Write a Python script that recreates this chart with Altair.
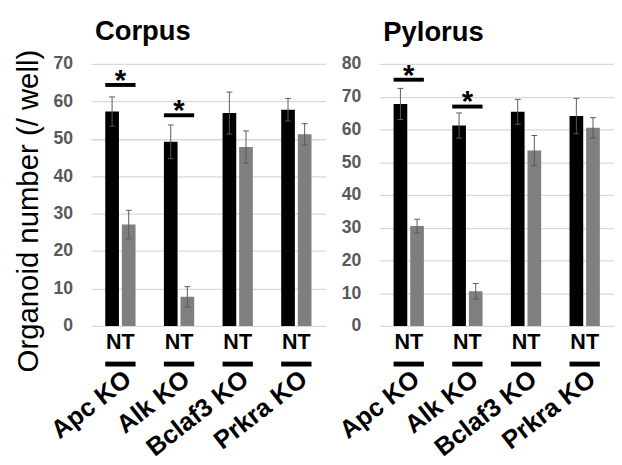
import altair as alt
import pandas as pd

FONT = "Liberation Sans"

categories = ["Apc KO", "Alk KO", "Bclaf3 KO", "Prkra KO"]
groups = ["NT", "KO"]

corpus_nt = [57.3, 49.2, 56.9, 57.8]
corpus_nt_err = [3.9, 4.5, 5.6, 3.0]
corpus_ko = [27.1, 7.8, 47.8, 51.2]
corpus_ko_err = [3.8, 2.7, 4.3, 2.85]

pylorus_nt = [67.8, 61.2, 65.4, 64.1]
pylorus_nt_err = [4.75, 3.85, 3.8, 5.4]
pylorus_ko = [30.5, 10.6, 53.6, 60.5]
pylorus_ko_err = [2.1, 2.35, 4.55, 3.1]

sig_categories = ["Apc KO", "Alk KO"]
corpus_sig = [64.4, 56.3]
pylorus_sig = [75.2, 67.0]

corpus_ticks = [0, 10, 20, 30, 40, 50, 60, 70]
pylorus_ticks = [0, 10, 20, 30, 40, 50, 60, 70, 80]

H = 268


def panel(title, nt, nt_err, ko, ko_err, sig, ticks, ytitle, title_offset, width):
    rows = []
    for c, v, e in zip(categories, nt, nt_err):
        rows.append(dict(cat=c, grp="NT", val=v, lo=v - e, hi=v + e))
    for c, v, e in zip(categories, ko, ko_err):
        rows.append(dict(cat=c, grp="KO", val=v, lo=v - e, hi=v + e))
    df = pd.DataFrame(rows)
    sig_df = pd.DataFrame(dict(cat=sig_categories, val=sig))
    cat_df = pd.DataFrame(dict(cat=categories, lab=["NT"] * len(categories)))

    xaxis = alt.Axis(
        title=None, labelAngle=-38, labelAlign="right", labelBaseline="middle",
        labelFontSize=26, labelFontWeight="bold", labelColor="black",
        labelFont=FONT, labelPadding=51, labelOffset=8, domain=False, ticks=False,
        labelOverlap=False,
    )
    xscale = alt.Scale(domain=categories, range=[0, 240], paddingInner=0, paddingOuter=0)
    x = alt.X("cat:N", sort=categories, scale=xscale, axis=xaxis)
    xo = alt.XOffset("grp:N", sort=groups,
                     scale=alt.Scale(domain=groups, paddingInner=0.1765, paddingOuter=0.853))
    yaxis_kw = dict(
        values=ticks, grid=True, gridColor="#d9d9d9", gridWidth=1.3, domain=False,
        ticks=False, labelFontSize=18, labelFontWeight="bold", labelColor="#595959",
        labelFont=FONT, labelPadding=19,
    )
    if ytitle:
        yaxis = alt.Axis(title=ytitle, titleFontSize=30, titleFontWeight="normal",
                         titleColor="black", titleFont=FONT, titlePadding=10,
                         titleY=150, **yaxis_kw)
    else:
        yaxis = alt.Axis(title=None, **yaxis_kw)
    yscale = alt.Scale(domain=[0, ticks[-1]], nice=False)

    bars = alt.Chart(df).mark_bar().encode(
        x=x, xOffset=xo,
        y=alt.Y("val:Q", scale=yscale, axis=yaxis),
        color=alt.Color("grp:N", scale=alt.Scale(domain=groups, range=["#000000", "#7f7f7f"]),
                        legend=None),
    )
    err = alt.Chart(df).mark_rule(color="#595959", strokeWidth=1).encode(
        x=x, xOffset=xo,
        y=alt.Y("lo:Q", scale=yscale, axis=yaxis), y2="hi:Q",
    )
    cap_lo = alt.Chart(df).mark_tick(orient="horizontal", size=6, thickness=1,
                                     color="#595959", opacity=1).encode(
        x=x, xOffset=xo, y=alt.Y("lo:Q", scale=yscale, axis=yaxis))
    cap_hi = alt.Chart(df).mark_tick(orient="horizontal", size=6, thickness=1,
                                     color="#595959", opacity=1).encode(
        x=x, xOffset=xo, y=alt.Y("hi:Q", scale=yscale, axis=yaxis))
    sig_bar = alt.Chart(sig_df).mark_tick(orient="horizontal", size=31, thickness=4,
                                          color="black", opacity=1).encode(
        x=x, y=alt.Y("val:Q", scale=yscale, axis=yaxis))
    star = alt.Chart(sig_df).mark_text(text="*", fontSize=30, fontWeight="bold",
                                       font=FONT, dy=5, baseline="alphabetic",
                                       color="black").encode(
        x=x, y=alt.Y("val:Q", scale=yscale, axis=yaxis))
    nt_text = alt.Chart(cat_df).mark_text(fontSize=22, fontWeight="bold", font=FONT,
                                          baseline="alphabetic", color="black").encode(
        x=x, y=alt.value(H + 24), text="lab:N")
    nt_line = alt.Chart(cat_df).mark_tick(orient="horizontal", size=31, thickness=5,
                                          color="black", opacity=1).encode(
        x=x, y=alt.value(H + 39))

    return alt.layer(bars, err, cap_lo, cap_hi, sig_bar, star, nt_text, nt_line).properties(
        width=width, height=H,
        title=alt.TitleParams(title, fontSize=28, fontWeight="bold", font=FONT,
                              anchor="start", frame="group", dx=4, offset=title_offset,
                              color="black"),
    )


left = panel("Corpus", corpus_nt, corpus_nt_err, corpus_ko, corpus_ko_err, corpus_sig,
             corpus_ticks, "Organoid number (/ well)", 3, 240)
right = panel("Pylorus", pylorus_nt, pylorus_nt_err, pylorus_ko, pylorus_ko_err,
              pylorus_sig, pylorus_ticks, None, 9, 232)

chart = alt.hconcat(left, right, spacing=9).configure_view(stroke=None).properties(
    padding={"left": 5, "top": 5, "right": 0, "bottom": 0}
)

chart.save("out.html", embed_options={"renderer": "svg", "actions": False})
